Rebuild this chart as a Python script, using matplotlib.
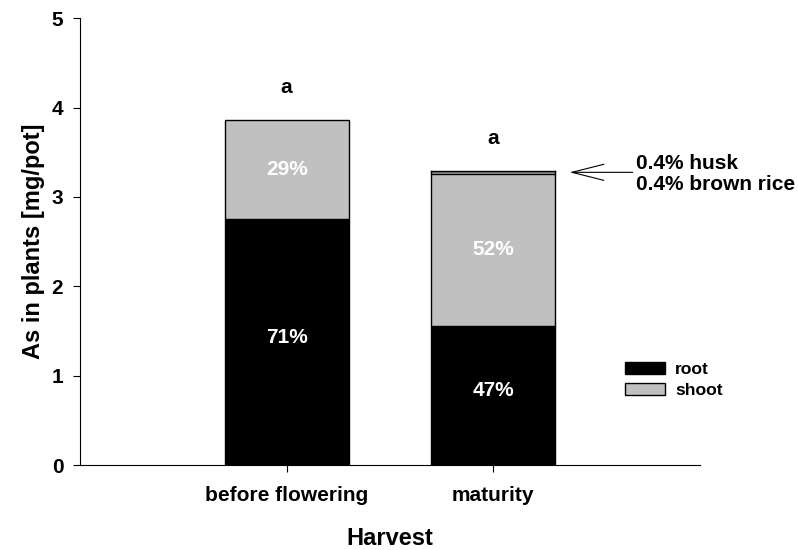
import matplotlib.pyplot as plt
import numpy as np

plt.rcParams['font.family'] = ['Liberation Sans', 'DejaVu Sans']
plt.rcParams['font.weight'] = 'bold'
plt.rcParams['axes.labelweight'] = 'bold'

harvest = ['before flowering', 'maturity']
root = np.array([2.75, 1.56])
shoot = np.array([1.11, 1.70])
husk = np.array([0.0, 0.014])
brown_rice = np.array([0.0, 0.014])
root_pct = ['71%', '47%']
shoot_pct = ['29%', '52%']
letters = ['a', 'a']

x = np.array([1, 2])
w = 0.6
fs = 15

fig = plt.figure(figsize=(7.98, 5.5), dpi=100)
ax = fig.add_axes([0.1003, 0.1545, 0.7767, 0.8125])

ax.bar(x, root, w, color='black', edgecolor='black', linewidth=1, label='root')
ax.bar(x, shoot, w, bottom=root, color='#c0c0c0', edgecolor='black', linewidth=1, label='shoot')
ax.bar(x[1:], husk[1:], w, bottom=(root + shoot)[1:], color='#808080', edgecolor='none')
ax.bar(x[1:], brown_rice[1:], w, bottom=(root + shoot + husk)[1:], color='#505050', edgecolor='none')
# outline of the maturity stack top
tot = root + shoot + husk + brown_rice
ax.plot([x[1] - w / 2, x[1] + w / 2], [tot[1], tot[1]], color='black', lw=1)
ax.plot([x[1] - w / 2, x[1] - w / 2], [root[1] + shoot[1], tot[1]], color='black', lw=1)
ax.plot([x[1] + w / 2, x[1] + w / 2], [root[1] + shoot[1], tot[1]], color='black', lw=1)

for i in range(len(x)):
    ax.text(x[i], root[i] / 2 + 0.05, root_pct[i], color='white', ha='center', va='center', fontsize=fs)
    ax.text(x[i], root[i] + shoot[i] / 2, shoot_pct[i], color='white', ha='center', va='center', fontsize=fs)
    ax.text(x[i], tot[i] + 0.36, letters[i], ha='center', va='center', fontsize=fs)

ax.annotate('', xy=(2.37, tot[1] - 0.013), xytext=(2.675, tot[1] - 0.013),
            arrowprops=dict(arrowstyle='->,head_length=2.3,head_width=0.58', lw=0.8,
                            color='black', shrinkA=0, shrinkB=0, mutation_scale=10))
ax.text(2.693, tot[1] + 0.09, '0.4% husk', ha='left', va='center', fontsize=fs)
ax.text(2.693, tot[1] - 0.145, '0.4% brown rice', ha='left', va='center', fontsize=fs)

ax.set_xlim(0, 3)
ax.set_ylim(0, 5)
ax.set_xticks(x)
ax.set_xticklabels(harvest, fontsize=fs)
ax.set_yticks([0, 1, 2, 3, 4, 5])
ax.tick_params(axis='y', labelsize=fs, direction='out', length=5, pad=7)
ax.tick_params(axis='x', direction='out', length=5, pad=10)
ax.spines['top'].set_visible(False)
ax.spines['right'].set_visible(False)
ax.set_xlabel('Harvest', fontsize=17, labelpad=16)
ax.set_ylabel('As in plants [mg/pot]', fontsize=17, labelpad=5)

leg = ax.legend(loc='center left', bbox_to_anchor=(0.879, 0.19), frameon=False,
                fontsize=12.6, handlelength=2.29, handleheight=0.63, handletextpad=0.57,
                labelspacing=0.35, borderpad=0, borderaxespad=0)

plt.savefig('out.png', dpi=100)
